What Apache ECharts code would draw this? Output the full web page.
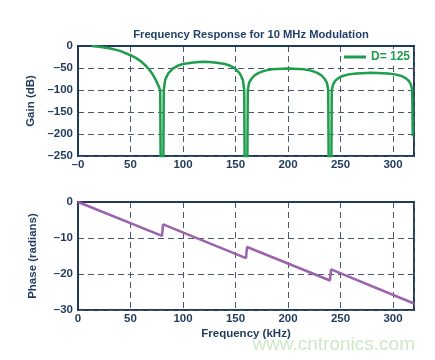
<!DOCTYPE html>
<html>
<head>
<meta charset="utf-8">
<script src="https://cdn.jsdelivr.net/npm/echarts@6/dist/echarts.min.js"></script>
<style>
html,body{margin:0;padding:0;background:#fff;}
#c{width:435px;height:360px;}
</style>
</head>
<body>
<div id="c"></div>
<script>
// Frequency (kHz) vs gain (dB)
const gainFreq = [13,20,30,40,50,55,60,65,68,71,74,76,78.3,78.8,81.2,81.7,
  83,86,90.5,95,100,108,115,120,125,132,140,145,149.5,154,157,158.3,158.8,161.2,161.7,
  163,165,168,172,178,185,200,215,222,228,232,235,237,238.3,238.8,241.2,241.7,
  243,245,248,252,258,265,280,295,302,308,312,315,317,318.3,318.8];
const gainDb = [0,-1.5,-5,-11,-21,-27,-35,-46,-54,-64,-77,-87,-100,-300,-300,-100,
  -77,-62,-51,-45,-41,-38,-36.5,-36,-36.5,-38,-41,-45,-51,-62,-77,-100,-300,-300,-100,
  -83,-75,-67,-61,-56,-53,-51,-53,-56,-61,-67,-75,-83,-100,-300,-300,-100,
  -87,-79,-73,-68,-64.5,-62.5,-61,-62.5,-64.5,-68,-73,-79,-87,-100,-205];
// Frequency (kHz) vs phase (radians)
const phaseFreq = [0,80,81,160,161,240,241,320];
const phaseRad = [0,-9.4,-6.2,-15.6,-12.5,-21.8,-18.7,-28.2];
const xTicks = [0,50,100,150,200,250,300];
const gainTicks = [0,-50,-100,-150,-200,-250];
const phaseTicks = [0,-10,-20,-30];

const navy = '#1f3a5c';
const gridCol = '#4a5670';
const font = 'Liberation Sans, Arial, Helvetica, sans-serif';
const minus = v => (v < 0 ? '\u2013' + Math.abs(v) : String(v));

const pair = (xs, ys) => xs.map((x, i) => [x, ys[i]]);

const axisCommon = {
  axisTick: {show: false},
  axisLine: {show: true, lineStyle: {color: navy, width: 2}},
  splitLine: {show: true, lineStyle: {color: gridCol, type: [6, 4], width: 1}},
  nameTextStyle: {color: navy, fontWeight: 'bold', fontSize: 11.5, fontFamily: font}
};
const labelCommon = {color: navy, fontWeight: 'bold', fontSize: 11.5, fontFamily: font};

const chart = echarts.init(document.getElementById('c'), null, {renderer: 'canvas'});
chart.setOption({
  animation: false,
  backgroundColor: '#fff',
  title: {
    text: 'Frequency Response for 10 MHz Modulation',
    left: 246, top: 24, textAlign: 'center',
    textStyle: {color: '#223f68', fontWeight: 'bold', fontSize: 11.2, fontFamily: font}
  },
  legend: {
    data: ['D= 125'],
    right: 23, top: 49,
    icon: 'rect', itemWidth: 22, itemHeight: 3, itemGap: 4,
    backgroundColor: '#fff', padding: [2, 2],
    textStyle: {color: '#1e9e4c', fontWeight: 'bold', fontSize: 12, fontFamily: font}
  },
  grid: [
    {left: 78, right: 21, top: 46, height: 110, show: true, borderColor: navy, borderWidth: 2, backgroundColor: 'transparent'},
    {left: 78, right: 21, top: 202, height: 108, show: true, borderColor: navy, borderWidth: 2, backgroundColor: 'transparent'}
  ],
  xAxis: [
    Object.assign({}, axisCommon, {
      type: 'value', gridIndex: 0, min: 0, max: 320, interval: 50,
      axisLabel: Object.assign({}, labelCommon, {margin: 3, showMaxLabel: false,
        formatter: v => (v === 0 ? '\u20130' : (xTicks.indexOf(v) >= 0 ? String(v) : ''))})
    }),
    Object.assign({}, axisCommon, {
      type: 'value', gridIndex: 1, min: 0, max: 320, interval: 50,
      name: 'Frequency (kHz)', nameLocation: 'middle', nameGap: 18,
      axisLabel: Object.assign({}, labelCommon, {margin: 3, showMaxLabel: false,
        formatter: v => (xTicks.indexOf(v) >= 0 ? String(v) : '')})
    })
  ],
  yAxis: [
    Object.assign({}, axisCommon, {
      type: 'value', gridIndex: 0, min: gainTicks[gainTicks.length - 1], max: gainTicks[0], interval: 50,
      name: 'Gain (dB)', nameLocation: 'middle', nameGap: 39,
      axisLabel: Object.assign({}, labelCommon, {margin: 5, formatter: minus})
    }),
    Object.assign({}, axisCommon, {
      type: 'value', gridIndex: 1, min: phaseTicks[phaseTicks.length - 1], max: phaseTicks[0], interval: 10,
      name: 'Phase (radians)', nameLocation: 'middle', nameGap: 39,
      axisLabel: Object.assign({}, labelCommon, {margin: 5, formatter: minus})
    })
  ],
  series: [
    {
      name: 'D= 125', type: 'line', xAxisIndex: 0, yAxisIndex: 0,
      data: pair(gainFreq, gainDb), smooth: false, showSymbol: false, symbol: 'none',
      clip: true, lineStyle: {color: '#1e9e4c', width: 2.5}, itemStyle: {color: '#1e9e4c'}
    },
    {
      name: 'Phase', type: 'line', xAxisIndex: 1, yAxisIndex: 1,
      data: pair(phaseFreq, phaseRad), showSymbol: false, symbol: 'none',
      lineStyle: {color: '#9c62ab', width: 2.5}, itemStyle: {color: '#9c62ab'}
    }
  ],
  graphic: [{
    type: 'text', right: 20, top: 335,
    style: {text: 'www.cntronics.com', fill: '#cfe8c8', fontSize: 19, fontFamily: font}
  }]
});
</script>
</body>
</html>
